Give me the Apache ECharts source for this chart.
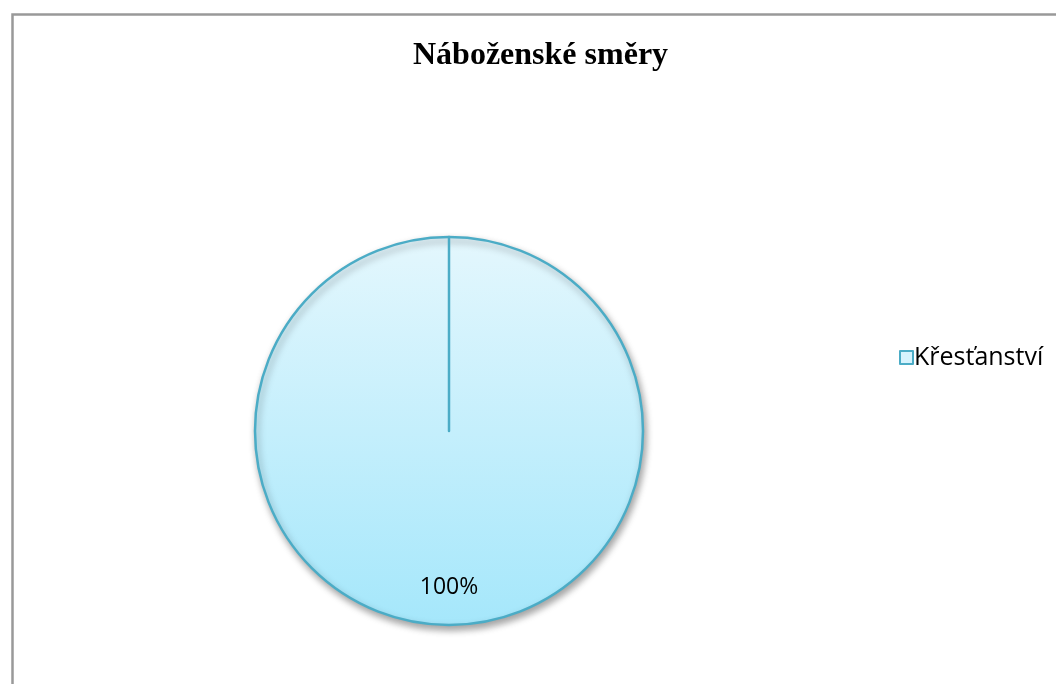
<!DOCTYPE html>
<html>
<head>
<meta charset="utf-8">
<style>
  html, body { margin: 0; padding: 0; background: #fff; }
  #chart { width: 1056px; height: 684px; }
</style>
<script src="https://cdn.jsdelivr.net/npm/echarts@6/dist/echarts.min.js"></script>
</head>
<body>
<div id="chart"></div>
<script>
// Religious directions: a single category holding the whole share
const titleText = 'Náboženské směry';
const categories = ['Křesťanství'];
const shares = [100];

const chart = echarts.init(document.getElementById('chart'));

const fill = new echarts.graphic.LinearGradient(0, 0, 0, 1, [
  { offset: 0, color: '#e4f7fd' },
  { offset: 1, color: '#a5e7fb' }
]);

const pieData = categories.map((name, i) => ({ name: name, value: shares[i] }));
// zero-width companion slice so the slice edge is stroked from the centre to the top
pieData.push({
  name: '',
  value: 0,
  label: { show: false },
  itemStyle: { shadowBlur: 0, shadowOffsetX: 0, shadowOffsetY: 0, shadowColor: 'rgba(0,0,0,0)' }
});

chart.setOption({
  backgroundColor: '#fff',
  title: {
    text: titleText,
    left: 408,
    top: 35,
    textStyle: {
      fontFamily: '"Liberation Serif", "DejaVu Serif", serif',
      fontWeight: 'bold',
      fontSize: 32,
      color: '#000'
    }
  },
  legend: {
    data: categories,
    orient: 'vertical',
    left: 894,
    top: 340,
    itemWidth: 13,
    itemHeight: 13,
    itemGap: 8,
    icon: 'rect',
    itemStyle: { color: '#d6f3fd', borderColor: '#4bacc6', borderWidth: 2 },
    textStyle: { fontFamily: '"Open Sans", "Noto Sans", sans-serif', fontSize: 25, color: '#000', padding: [0, 0, 0, -4] }
  },
  graphic: [{
    type: 'rect',
    left: 10,
    top: 12,
    shape: { width: 1100, height: 720 },
    style: { fill: 'none', stroke: '#999', lineWidth: 2.5 },
    silent: true
  }],
  series: [{
    type: 'pie',
    center: [449, 431],
    radius: 194,
    startAngle: 90,
    clockwise: true,
    avoidLabelOverlap: false,
    stillShowZeroSum: true,
    itemStyle: {
      color: fill,
      borderColor: '#4bacc6',
      borderWidth: 2.5,
      shadowBlur: 7,
      shadowOffsetX: 2,
      shadowOffsetY: 4,
      shadowColor: 'rgba(0,0,0,0.35)'
    },
    label: {
      show: true,
      position: 'inside',
      formatter: p => p.percent + '%',
      offset: [0, 56],
      fontFamily: '"Open Sans", "Noto Sans", sans-serif',
      fontSize: 23,
      color: '#000'
    },
    labelLine: { show: false },
    emphasis: { disabled: true },
    data: pieData
  }]
});
</script>
</body>
</html>
